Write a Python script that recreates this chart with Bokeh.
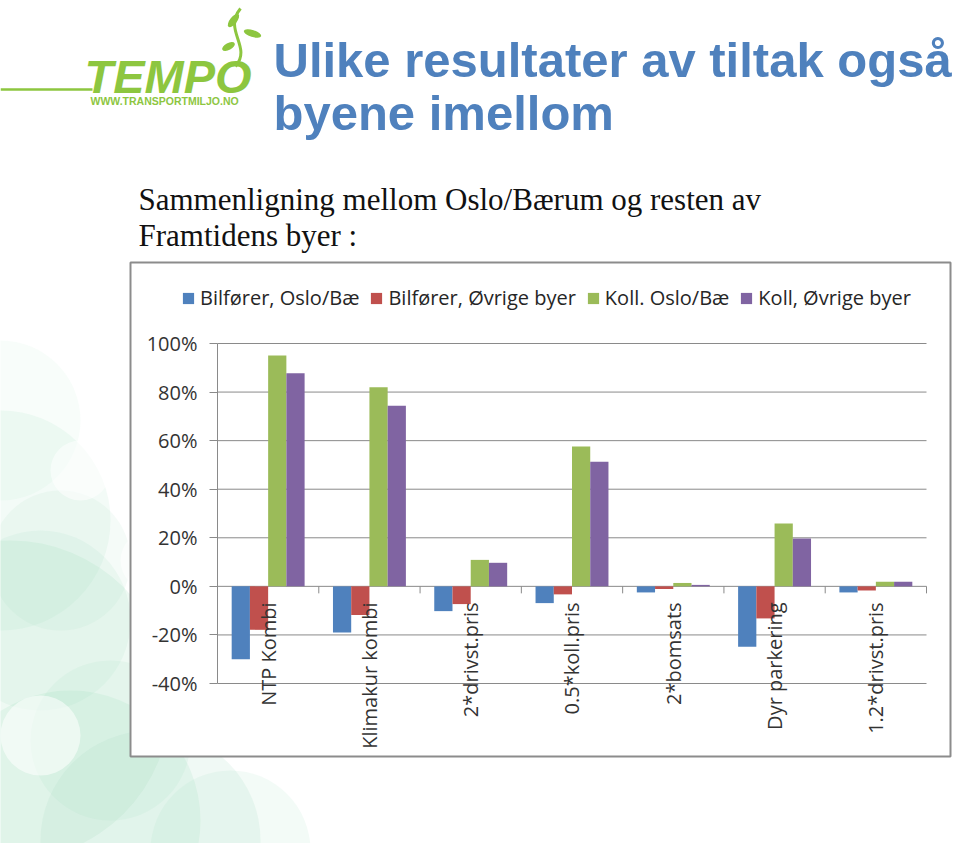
import math
import numpy as np
from bokeh.plotting import figure
from bokeh.models import (Range1d, LinearAxis, FixedTicker, PrintfTickFormatter,
                          Legend, LegendItem, ColumnDataSource)
from bokeh.core.properties import value
from bokeh.embed import file_html
from bokeh.resources import INLINE

# ---------------- data ----------------
categories = ["NTP Kombi", "Klimakur kombi", "2*drivst.pris", "0.5*koll.pris",
              "2*bomsats", "Dyr parkering", "1.2*drivst.pris"]
series_names = ["Bilfører, Oslo/Bæ", "Bilfører, Øvrige byer",
                "Koll. Oslo/Bæ", "Koll, Øvrige byer"]
bil_oslo = [-30.0, -19.0, -10.2, -6.9, -2.5, -24.9, -2.5]
bil_ovrige = [-17.9, -11.8, -7.3, -3.3, -1.1, -13.2, -1.7]
koll_oslo = [95.1, 82.0, 10.9, 57.6, 1.4, 25.9, 1.9]
koll_ovrige = [87.7, 74.4, 9.7, 51.3, 0.6, 19.7, 1.9]
y_ticks = [-40, -20, 0, 20, 40, 60, 80, 100]

title_lines = ["Ulike resultater av tiltak også", "byene imellom"]
subtitle_lines = ["Sammenligning mellom Oslo/Bærum og resten av", "Framtidens byer :"]
logo_word = "TEMPO"
logo_url = "WWW.TRANSPORTMILJO.NO"

# ---------------- page layout (pixels) ----------------
W, H = 960, 843
PX_L, PX_R = 217, 926        # plot area left/right
PX_TOP, PX_BOT = 343, 683    # y of top tick / bottom tick
series_colors = ["#4F81BD", "#C0504D", "#9BBB59", "#8064A2"]
offsets = [-0.27, -0.09, 0.09, 0.27]
BAR_W = 0.18
GRID = "#8a8a8a"
GREEN = "#8DC63F"
FONT = "Open Sans"

p = figure(width=W, height=H, x_range=Range1d(0, W), y_range=Range1d(H, 0),
           x_axis_type=None, y_axis_type=None, toolbar_location=None,
           output_backend="svg", min_border=0, outline_line_color=None,
           background_fill_color="white", border_fill_color="white")

# chart coordinate systems
n = len(categories)
unit = (PX_R - PX_L) / n
ymin, ymax = y_ticks[0], y_ticks[-1]
py = (PX_BOT - PX_TOP) / (ymax - ymin)
p.extra_x_ranges = {"cx": Range1d(-0.5 - PX_L / unit, -0.5 + (W - PX_L) / unit)}
p.extra_y_ranges = {"cy": Range1d(ymin - (H - PX_BOT) / py, ymax + PX_TOP / py)}

# ---------------- decorative background (soft mint bokeh) ----------------
bub_x = [10, 70, 0, 150, 230, 40, 110, 0, 60]
bub_y = [700, 820, 520, 840, 850, 620, 740, 420, 560]
bub_r = [160, 130, 110, 110, 80, 90, 80, 80, 70]
bub_a = [0.18, 0.18, 0.12, 0.16, 0.12, 0.12, 0.12, 0.07, 0.1]
p.circle(x=bub_x, y=bub_y, radius=bub_r, fill_color="#9fdcbf", fill_alpha=bub_a,
         line_color=None)
p.circle(x=[40, 150, 80], y=[735, 560, 470], radius=[40, 30, 30], fill_color="white",
         fill_alpha=0.55, line_color=None)

# chart box
p.quad(left=130, right=950, top=262, bottom=756, fill_color="white",
       line_color="#8c8c8c", line_width=2)

# ---------------- header ----------------
p.line(x=[0, 92], y=[89, 89], line_color=GREEN, line_width=2.5)
p.text(x=[84], y=[76], text=[logo_word], text_font=value("Liberation Sans"),
       text_font_style="bold italic", text_font_size="47px", text_color=GREEN,
       text_baseline="middle")
p.text(x=[90], y=[100], text=[logo_url], text_font=value("Liberation Sans"),
       text_font_style="bold", text_font_size="10.5px", text_color=GREEN,
       text_baseline="middle")
p.bezier(x0=[235], y0=[66], x1=[240], y1=[8], cx0=[252], cy0=[46],
         cx1=[222], cy1=[30], line_color=GREEN, line_width=3)
p.ellipse(x=[233, 252, 228], y=[20, 33, 46], width=[16, 18, 14], height=[7, 7, 7],
          angle=[0.9, -0.3, 0.5], fill_color=GREEN, line_color=None)

p.text(x=[273, 273], y=[59.5, 112.5], text=title_lines,
       text_font=value("Liberation Sans"), text_font_style="bold",
       text_font_size="49px", text_color="#4F81BD", text_baseline="middle")
p.text(x=[138, 138], y=[199, 235], text=subtitle_lines,
       text_font=value("Liberation Serif"), text_font_size="31px",
       text_color="#111111", text_baseline="middle")

# ---------------- chart ----------------
idx = np.arange(n)
# gridlines
p.segment(x0=-0.5, x1=n - 0.5, y0=y_ticks, y1=y_ticks, x_range_name="cx",
          y_range_name="cy", line_color=GRID, line_width=1)
# category boundary ticks below zero line
bounds_x = [i - 0.5 for i in range(n + 1)]
p.segment(x0=bounds_x, x1=bounds_x, y0=0, y1=-7 / py, x_range_name="cx",
          y_range_name="cy", line_color=GRID, line_width=1)

series = [bil_oslo, bil_ovrige, koll_oslo, koll_ovrige]
items = []
for name, vals, col, off in zip(series_names, series, series_colors, offsets):
    src = ColumnDataSource(dict(x=idx + off, top=vals))
    r = p.vbar(x="x", top="top", bottom=0, width=BAR_W, source=src,
               fill_color=col, line_color=None, x_range_name="cx", y_range_name="cy")
    items.append(LegendItem(label=value(name), renderers=[r]))

# y axis
yaxis = LinearAxis(x_range_name="cx", y_range_name="cy", fixed_location=-0.5,
                   ticker=FixedTicker(ticks=y_ticks),
                   formatter=PrintfTickFormatter(format="%d%%"),
                   bounds=(ymin, ymax))
yaxis.axis_line_color = GRID
yaxis.major_tick_line_color = GRID
yaxis.major_tick_out = 8
yaxis.major_tick_in = 0
yaxis.minor_tick_line_color = None
yaxis.major_label_standoff = 12
yaxis.major_label_text_font = FONT
yaxis.major_label_text_font_size = "20px"
yaxis.major_label_text_color = "#333333"
p.add_layout(yaxis, "left")

# category labels on the zero line
xaxis = LinearAxis(x_range_name="cx", y_range_name="cy", fixed_location=0,
                   ticker=FixedTicker(ticks=list(range(n))),
                   major_label_overrides={i: c for i, c in enumerate(categories)},
                   major_label_orientation=math.pi / 2)
xaxis.axis_line_color = None
xaxis.major_tick_line_color = None
xaxis.minor_tick_line_color = None
xaxis.major_label_standoff = 10
xaxis.major_label_text_font = FONT
xaxis.major_label_text_font_size = "20px"
xaxis.major_label_text_color = "#333333"
p.add_layout(xaxis, "below")

legend = Legend(items=items, orientation="horizontal", location=(181, 532),
                padding=0, margin=0, spacing=10, glyph_width=14, glyph_height=14,
                label_standoff=5, border_line_color=None, background_fill_alpha=0,
                label_text_font=FONT, label_text_font_size="20px",
                label_text_color="#262626")
p.add_layout(legend)

open("out.html", "w").write(file_html(p, INLINE))
